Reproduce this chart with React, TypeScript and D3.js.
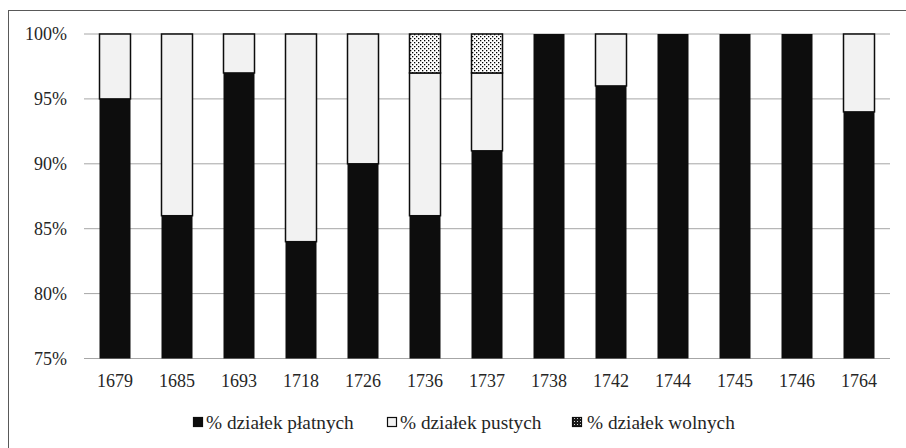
import React from "react";
import * as d3 from "d3";

const years = ["1679","1685","1693","1718","1726","1736","1737","1738","1742","1744","1745","1746","1764"];
const paid = [95, 86, 97, 84, 90, 86, 91, 100, 96, 100, 100, 100, 94];
const empty = [5, 14, 3, 16, 10, 11, 6, 0, 4, 0, 0, 0, 6];
const free = [0, 0, 0, 0, 0, 3, 3, 0, 0, 0, 0, 0, 0];
const yTicks = [75, 80, 85, 90, 95, 100];
const seriesNames = ["% działek płatnych", "% działek pustych", "% działek wolnych"];

export default function App() {
  const W = 906, H = 448;
  const left = 84, right = 890, top = 34, bottom = 358.5;
  const x = d3.scaleBand<string>().domain(years).range([left, right]).paddingInner(0.5).paddingOuter(0.25);
  const y = d3.scaleLinear().domain([75, 100]).range([bottom, top]);
  const axisStyle: React.CSSProperties = { fontFamily: '"Liberation Serif", "Times New Roman", Times, serif', fontSize: "18px" };
  const legendStyle: React.CSSProperties = { fontFamily: '"Liberation Serif", "Times New Roman", Times, serif', fontSize: "19.3px" };
  const fills = ["#0d0d0d", "#f2f2f2", "url(#dots)"];
  const series = [paid, empty, free];

  const rects: React.ReactElement[] = [];
  years.forEach((yr, i) => {
    let base = 0;
    series.forEach((s, k) => {
      const v = s[i];
      const lo = Math.max(base, 75);
      const hi = base + v;
      base = hi;
      if (v <= 0 || hi <= 75) return;
      rects.push(
        <rect key={yr + k} x={x(yr)!} y={y(hi)} width={x.bandwidth()} height={y(lo) - y(hi)}
          fill={fills[k]} stroke={k === 0 ? "none" : "#0d0d0d"} strokeWidth={k === 0 ? 0 : 1.5} />
      );
    });
  });

  const legendX = [193, 387, 572];
  const legendTextX = [206, 400, 587];

  return (
    <svg width={W} height={H} style={{ position: "absolute", left: 0, top: 0 }}>
      <defs>
        <pattern id="dots" width="4" height="4" patternUnits="userSpaceOnUse">
          <rect width="4" height="4" fill="#ffffff" />
          <rect x="0" y="0" width="1.3" height="1.3" fill="#000" />
          <rect x="2" y="2" width="1.3" height="1.3" fill="#000" />
        </pattern>
        <pattern id="dotsLegend" width="3" height="3" patternUnits="userSpaceOnUse">
          <rect width="3" height="3" fill="#1a1a1a" />
          <rect x="1" y="1" width="1" height="1" fill="#ddd" />
        </pattern>
      </defs>
      <rect x={0} y={0} width={W} height={H} fill="#fff" />
      <rect x={8.5} y={10.5} width={W + 10} height={H + 10} fill="none" stroke="#595959" strokeWidth={1} />
      {yTicks.map(t => (
        <g key={t}>
          <line x1={left} x2={right} y1={y(t)} y2={y(t)} stroke="#a6a6a6" strokeWidth={1} />
          <text x={67} y={y(t)} dy="0.35em" textAnchor="end" style={axisStyle} fill="#262626">{t}%</text>
        </g>
      ))}
      {rects}
      {years.map(yr => (
        <text key={yr} x={x(yr)! + x.bandwidth() / 2} y={387} textAnchor="middle" style={axisStyle} fill="#262626">{yr}</text>
      ))}
      {seriesNames.map((n, k) => (
        <g key={n}>
          <rect x={legendX[k] + 0.5} y={417.5} width={9} height={9}
            fill={k === 2 ? "url(#dotsLegend)" : fills[k]} stroke="#0d0d0d" strokeWidth={1.2} />
          <text x={legendTextX[k]} y={428.5} style={legendStyle} fill="#262626">{n}</text>
        </g>
      ))}
    </svg>
  );
}
